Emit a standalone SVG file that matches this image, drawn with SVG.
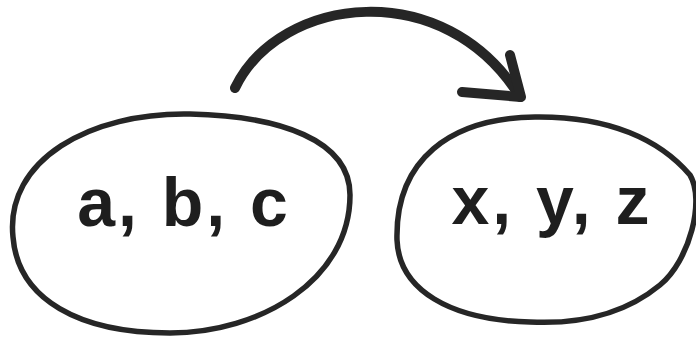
<svg xmlns="http://www.w3.org/2000/svg" width="696" height="339" viewBox="0 0 696 339">
<style>
.shape{fill:none;stroke:#262626;stroke-width:5.5;stroke-linecap:round;stroke-linejoin:round}
.arrow{fill:none;stroke:#262626;stroke-width:10;stroke-linecap:round;stroke-linejoin:round}
.lbl{font-family:"Liberation Sans",Arial,sans-serif;font-weight:bold;font-size:68px;fill:#1e1e1e}
</style>
<rect width="696" height="339" fill="#ffffff"/>
<g id="node-abc">
<path class="shape" d="M 13,237 C 5,160 90,112 190,114 C 280,116 350,140 350,195 C 350,280 260,333 170,333 C 80,333 18,300 13,237 Z"/>
<text class="lbl" x="184" y="226" text-anchor="middle" letter-spacing="3">a, b, c</text>
</g>
<g id="node-xyz">
<path class="shape" d="M 397,240 C 395,160 450,118 535,117 C 610,116 660,140 690,175 C 705,200 690,260 660,285 C 620,318 570,324 530,322 C 450,320 399,290 397,240 Z"/>
<text class="lbl" x="552" y="224" text-anchor="middle" letter-spacing="3">x, y, z</text>
</g>
<g id="connectors">
<path class="arrow" d="M 235,88 C 280,-5 445,-25 520,97"/>
<path class="arrow" d="M 462,92 L 521,97 L 510,55"/>
</g>
</svg>
